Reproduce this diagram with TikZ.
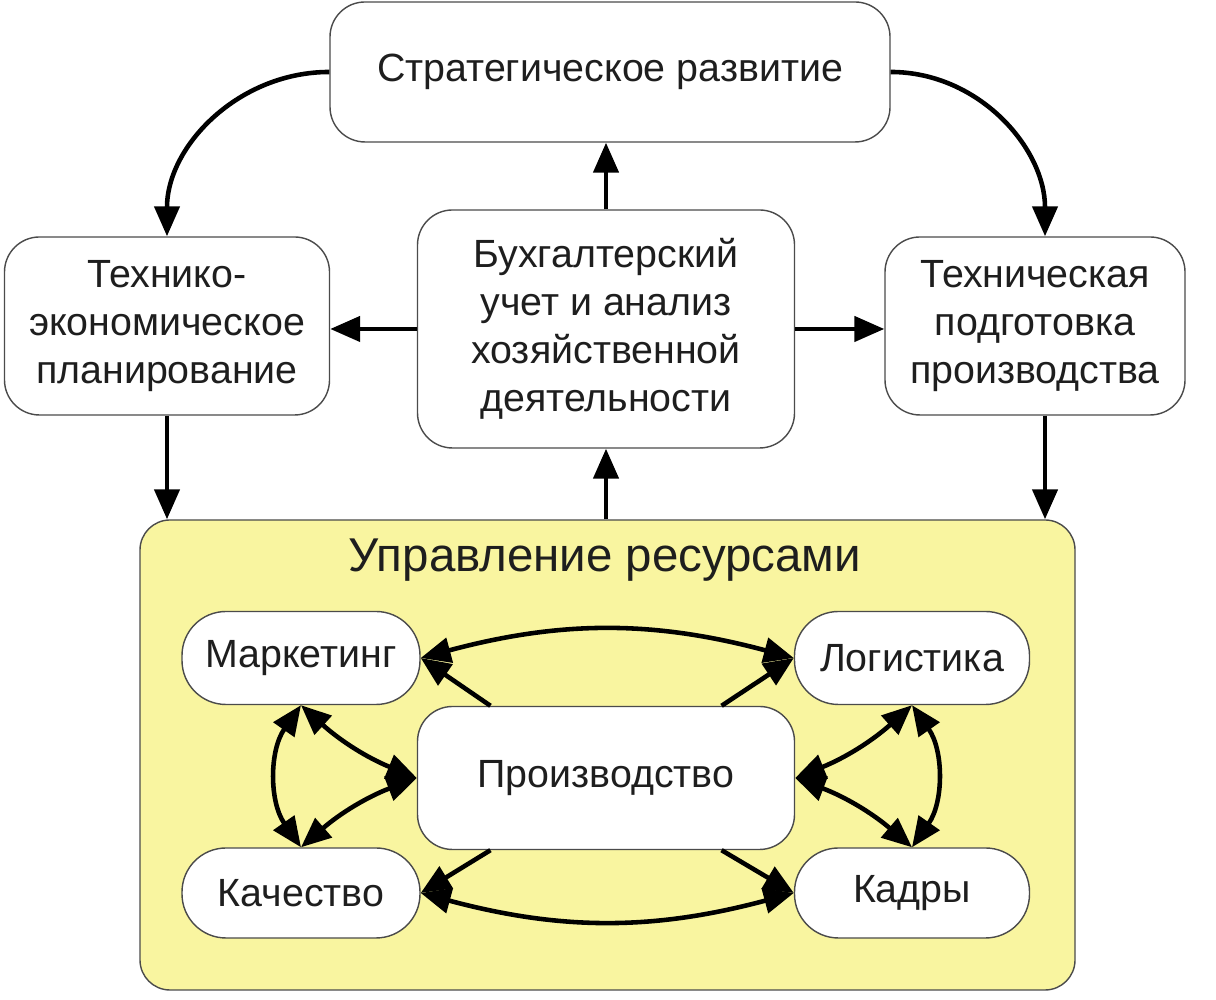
\documentclass[tikz,border=0pt]{standalone}
\usepackage{fontspec}
\setmainfont{Liberation Sans}
\usetikzlibrary{arrows.meta}
\definecolor{resyellow}{RGB}{249,245,160}
\definecolor{ink}{RGB}{30,30,30}
\begin{document}
\begin{tikzpicture}[
    box/.style={draw=ink!80, fill=white, rounded corners=0.35cm, align=center, text=ink,
        inner sep=0pt, font=\fontsize{11.2}{13.6}\selectfont},
    pill/.style={box, rounded corners=0.44cm},
    arr/.style={draw=black, line width=1.3pt, -{Triangle[length=0.3cm,width=0.25cm]}},
    darr/.style={arr, {Triangle[length=0.3cm,width=0.25cm]}-{Triangle[length=0.3cm,width=0.25cm]}}
]
            \useasboundingbox (0,0) rectangle (12.16,10);

            % upper part
            \node[box, minimum width=5.6cm, minimum height=1.4cm] (strat) at (6.10,9.28) {Стратегическое развитие};
            \node[box, minimum width=3.25cm, minimum height=1.78cm] (plan) at (1.67,6.74) {Технико-\\экономическое\\планирование};
            \node[box, minimum width=3.77cm, minimum height=2.38cm] (acct) at (6.06,6.71) {Бухгалтерский\\учет и анализ\\хозяйственной\\деятельности};
            \node[box, minimum width=3.0cm, minimum height=1.78cm] (prep) at (10.35,6.74) {Техническая\\подготовка\\производства};

            % resources
            \node[draw=ink!80, fill=resyellow, rounded corners=0.3cm, minimum width=9.35cm, minimum height=4.7cm] (res) at (6.075,2.45) {};
            \node[text=ink, font=\fontsize{13.5}{16}\selectfont] (restitle) at (6.05,4.40) {Управление ресурсами};

            \node[pill, minimum width=2.38cm, minimum height=0.93cm] (mark) at (3.01,3.42) {Маркетинг};
            \node[pill, minimum width=2.35cm, minimum height=0.93cm] (log) at (9.12,3.42) {Логистика};
            \node[box, minimum width=3.77cm, minimum height=1.43cm] (prod) at (6.06,2.22) {Производство};
            \node[pill, minimum width=2.38cm, minimum height=0.90cm] (qual) at (3.01,1.07) {Качество};
            \node[pill, minimum width=2.35cm, minimum height=0.90cm] (staff) at (9.12,1.07) {Кадры};

            \draw[arr] (strat.west) to[out=180,in=90] (plan.north);
            \draw[arr] (strat.east) to[out=0,in=90] ([xshift=0.1cm]prep.north);
            \draw[arr] (acct.north) -- (acct.north |- strat.south);
            \draw[arr] (acct.west) -- (acct.west -| plan.east);
            \draw[arr] (acct.east) -- (acct.east -| prep.west);
            \draw[arr] (plan.south) -- (plan.south |- res.north);
            \draw[arr] ([xshift=0.1cm]prep.south) -- ([xshift=0.1cm]prep.south |- res.north);
            \draw[arr] (acct.south |- res.north) -- (acct.south);

            \draw[darr] (mark.east) to[bend left=15] (log.west);
            \draw[darr] (qual.east) to[bend right=15] (staff.west);
            \draw[arr] (prod.148) -- (mark.east);
            \draw[arr] (prod.32) -- (log.west);
            \draw[arr] (prod.212) -- (qual.east);
            \draw[arr] (prod.328) -- (staff.west);

            \draw[darr] (mark.south) to[bend right=35] (qual.north);
            \draw[darr] (mark.south) to[bend right=10] (prod.west);
            \draw[darr] (prod.west) to[bend right=10] (qual.north);
            \draw[darr] (log.south) to[bend left=35] (staff.north);
            \draw[darr] (log.south) to[bend left=10] (prod.east);
            \draw[darr] (prod.east) to[bend left=10] (staff.north);
        \end{tikzpicture}
\end{document}
